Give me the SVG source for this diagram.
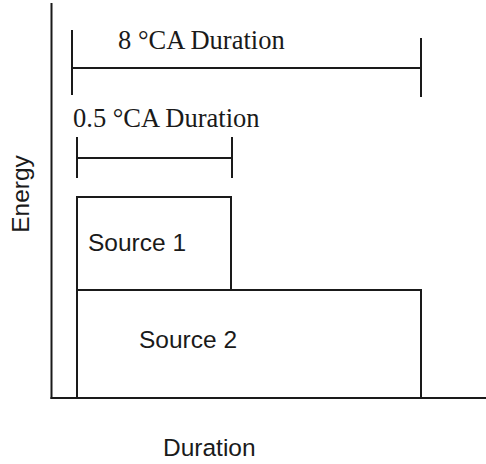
<svg xmlns="http://www.w3.org/2000/svg" width="486" height="464" viewBox="0 0 486 464">
  <style>
    .ln { stroke: #1a1a1a; stroke-width: 2; fill: none; stroke-linecap: square; }
    .box { stroke: #1a1a1a; stroke-width: 2; fill: #ffffff; }
    .serif { font-family: "Liberation Serif", "Times New Roman", serif; font-size: 26.5px; fill: #1a1a1a; }
    .sans { font-family: "Liberation Sans", Arial, sans-serif; font-size: 24.5px; fill: #1a1a1a; }
  </style>
  <rect width="486" height="464" fill="#ffffff"/>

  <!-- axes -->
  <g id="axes">
    <line class="ln" x1="51.5" y1="4" x2="51.5" y2="398"/>
    <line class="ln" x1="51.5" y1="398" x2="486" y2="398"/>
    <text class="sans" transform="translate(29,194) rotate(-90)" text-anchor="middle" font-size="23">Energy</text>
    <text class="sans" x="163" y="456" font-size="26">Duration</text>
  </g>

  <!-- energy blocks -->
  <g id="source2">
    <rect class="box" x="77" y="290" width="344" height="108"/>
    <text class="sans" x="139" y="348">Source 2</text>
  </g>
  <g id="source1">
    <rect class="box" x="77" y="197" width="154" height="93"/>
    <text class="sans" x="88" y="251">Source 1</text>
  </g>

  <!-- duration spans -->
  <g id="span-8ca">
    <line class="ln" x1="72" y1="31" x2="72" y2="94"/>
    <line class="ln" x1="72" y1="68" x2="421" y2="68"/>
    <line class="ln" x1="421" y1="39" x2="421" y2="96"/>
    <text class="serif" x="118" y="49">8 °CA Duration</text>
  </g>
  <g id="span-05ca">
    <line class="ln" x1="77" y1="138" x2="77" y2="177"/>
    <line class="ln" x1="77" y1="158" x2="232" y2="158"/>
    <line class="ln" x1="232" y1="138" x2="232" y2="177"/>
    <text class="serif" x="73" y="127">0.5 °CA Duration</text>
  </g>
</svg>
